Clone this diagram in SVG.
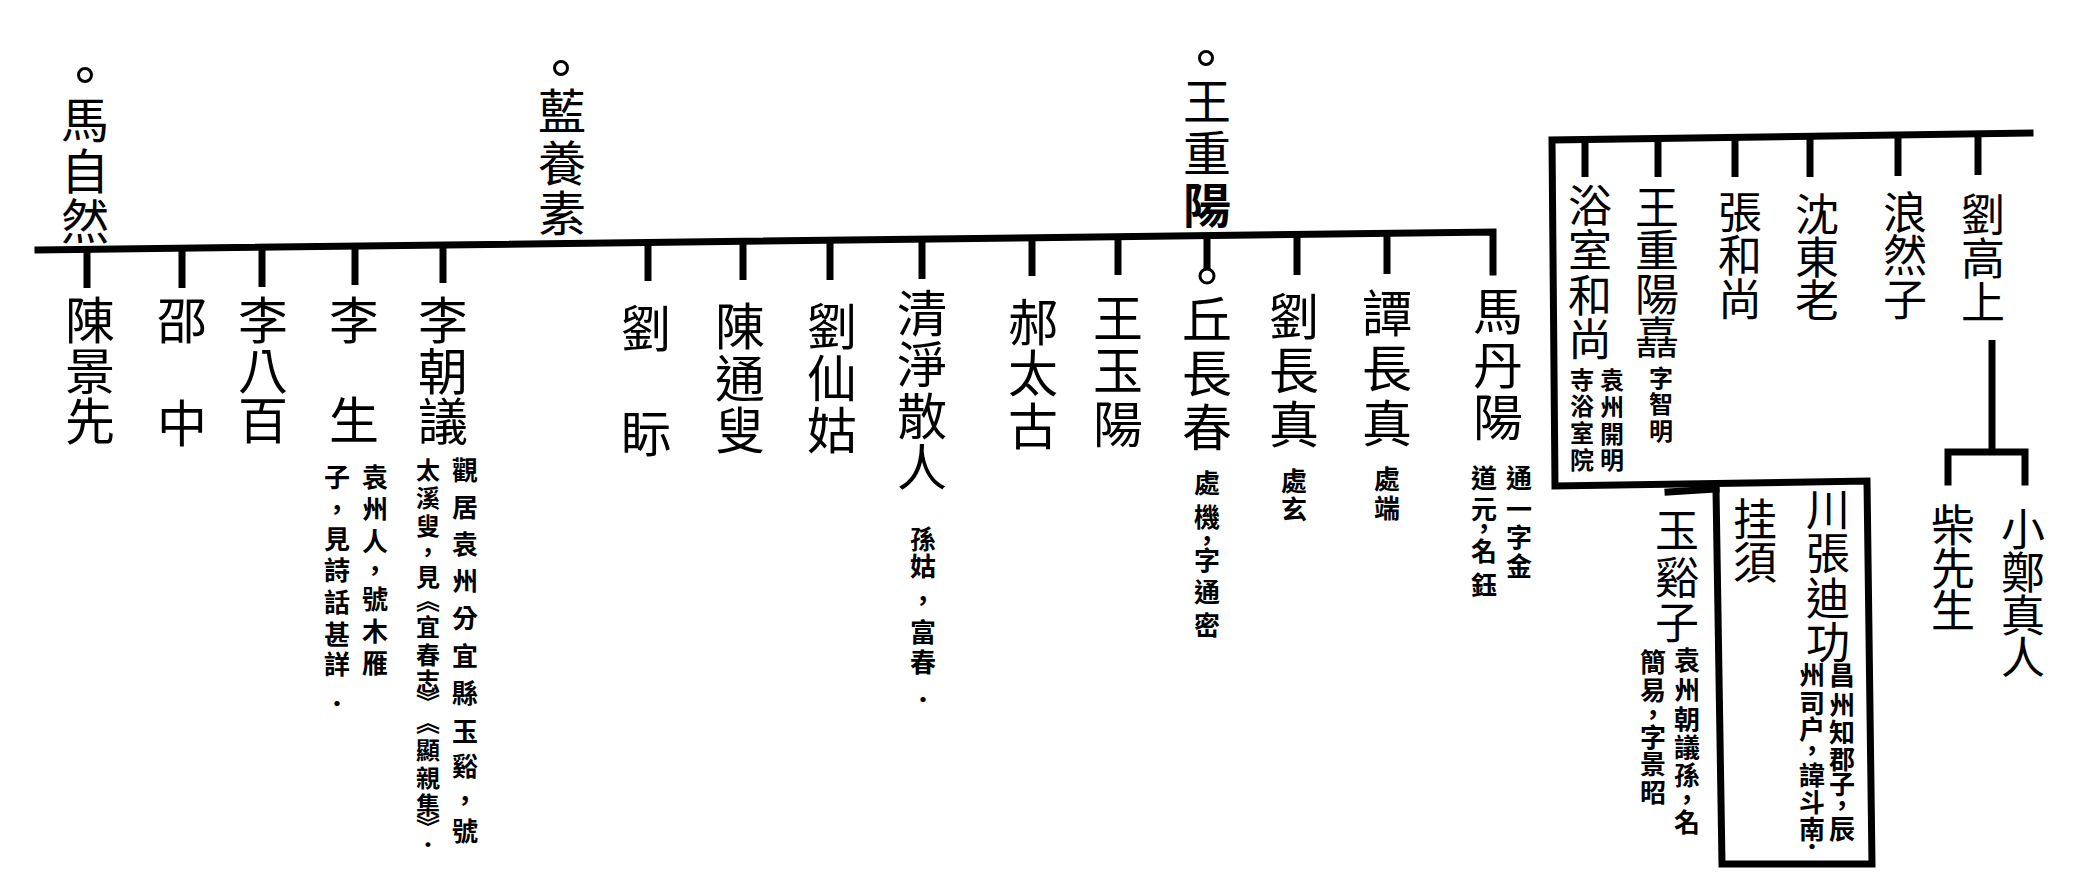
<svg xmlns="http://www.w3.org/2000/svg" width="2074" height="892" viewBox="0 0 2074 892">
<style>
text { font-family: "Noto Sans CJK TC", "Noto Sans CJK JP", sans-serif; text-anchor: middle; dominant-baseline: central; fill: #000; }
.n { font-size: 50px; }
.t { font-size: 48px; }
.r { font-size: 44px; }
.s { font-size: 26px; font-weight: 700; }
.xs { font-size: 24px; font-weight: 700; }
.b { font-weight: 700; }
.ln { stroke: #000; stroke-width: 7; fill: none; stroke-linecap: square; }
.tk { stroke: #000; stroke-width: 7; fill: none; }
.rg { stroke: #000; stroke-width: 3; fill: #fff; }
</style>
<rect width="2074" height="892" fill="#fff"/>
<g id="connectors">
  <polyline class="ln" points="38,250 1493,232 1493,272"/>
  <line class="tk" x1="87" y1="249" x2="87" y2="288"/>
  <line class="tk" x1="182" y1="248" x2="182" y2="288"/>
  <line class="tk" x1="262" y1="247" x2="262" y2="287"/>
  <line class="tk" x1="355" y1="246" x2="355" y2="285"/>
  <line class="tk" x1="443" y1="244" x2="443" y2="283"/>
  <line class="tk" x1="648" y1="242" x2="648" y2="281"/>
  <line class="tk" x1="743" y1="241" x2="743" y2="280"/>
  <line class="tk" x1="830" y1="240" x2="830" y2="280"/>
  <line class="tk" x1="922" y1="239" x2="922" y2="279"/>
  <line class="tk" x1="1032" y1="237" x2="1032" y2="276"/>
  <line class="tk" x1="1118" y1="236" x2="1118" y2="275"/>
  <line class="tk" x1="1207" y1="235" x2="1207" y2="270"/>
  <line class="tk" x1="1297" y1="234" x2="1297" y2="275"/>
  <line class="tk" x1="1387" y1="233" x2="1387" y2="274"/>
  <circle class="rg" cx="1207" cy="276" r="7"/>
  <polyline class="ln" points="2030,133 1552,140 1555,486 1867,481 1872,864 1722,864 1716,489"/>
  <line class="ln" x1="1668" y1="492" x2="1716" y2="489"/>
  <line class="tk" x1="1585" y1="139" x2="1585" y2="177"/>
  <line class="tk" x1="1658" y1="138" x2="1658" y2="177"/>
  <line class="tk" x1="1735" y1="137" x2="1735" y2="177"/>
  <line class="tk" x1="1810" y1="136" x2="1810" y2="177"/>
  <line class="tk" x1="1898" y1="135" x2="1898" y2="176"/>
  <line class="tk" x1="1978" y1="134" x2="1978" y2="175"/>
  <line class="tk" x1="1992" y1="340" x2="1992" y2="452"/>
  <polyline class="ln" points="1948,482 1948,452 2025,452 2025,482"/>
</g>
<g id="ma-ziran">
  <circle class="rg" cx="85" cy="75" r="6.5"/>
  <text class="t" x="85 85 85" y="117 168 218">馬自然</text>
</g>
<g id="lan-yangsu">
  <circle class="rg" cx="561" cy="68" r="6.5"/>
  <text class="t" x="562 562 562" y="108 160 210">藍養素</text>
</g>
<g id="wang-chongyang">
  <circle class="rg" cx="1206" cy="58" r="6.5"/>
  <text class="t" x="1207 1207 1207" y="98 150 202">王重<tspan class="b">陽</tspan></text>
</g>
<g id="chen-jingxian"><text class="n" x="90 90 90" y="317 368 418">陳景先</text></g>
<g id="shao-zhong"><text class="n" x="182 182" y="317 420">邵中</text></g>
<g id="li-babai"><text class="n" x="263 263 263" y="317 367 417">李八百</text></g>
<g id="li-sheng">
  <text class="n" x="354 354" y="317 417">李生</text>
  <text class="s" x="375 375 375 375 375 375 375" y="475 507 539 568 597 629 661">袁州人，號木雁</text>
  <text class="s" x="337 337 337 337 337 337 337 337" y="475 507 537 568 600 632 662 702">子，見詩話甚詳．</text>
</g>
<g id="li-chaoyi">
  <text class="n" x="443 443 443" y="317 368 418">李朝議</text>
  <text class="s" x="465 465 465 465 465 465 465 465 465 465 465" y="468 505 542 579 616 654 691 729 764 798 829">觀居袁州分宜縣玉谿，號</text>
  <text class="xs" x="428 428 428 428 428 428 428 428 428 428 428 428 428 428 428 428" y="468 496 524 550 575 598 625 653 679 700 720 748 776 803 825 843">太溪叟，見︽宜春志︾︽顯親集︾．</text>
</g>
<g id="liu-shi"><text class="n" x="646 646" y="325 430">劉眎</text></g>
<g id="chen-tongsou"><text class="n" x="740 740 740" y="323 375 427">陳通叟</text></g>
<g id="liu-xiangu"><text class="n" x="832 832 832" y="323 375 427">劉仙姑</text></g>
<g id="qingjing-sanren">
  <text class="n" x="922 922 922 922" y="310 361 413 464">清淨散人</text>
  <text class="s" x="923 923 923 923 923 923" y="537 564 598 630 660 698">孫姑，富春．</text>
</g>
<g id="hao-taigu"><text class="n" x="1033 1033 1033" y="319 370 423">郝太古</text></g>
<g id="wang-yuyang"><text class="n" x="1118 1118 1118" y="315 367 421">王玉陽</text></g>
<g id="qiu-changchun">
  <text class="n" x="1207 1207 1207" y="316 370 424">丘長春</text>
  <text class="s" x="1207 1207 1207 1207 1207 1207" y="481 515 538 558 590 623">處機，字通密</text>
</g>
<g id="liu-changzhen">
  <text class="n" x="1294 1294 1294" y="313 367 421">劉長真</text>
  <text class="s" x="1294 1294" y="479 507">處玄</text>
</g>
<g id="tan-changzhen">
  <text class="n" x="1387 1387 1387" y="310 365 420">譚長真</text>
  <text class="s" x="1387 1387" y="477 506">處端</text>
</g>
<g id="ma-danyang">
  <text class="n" x="1498 1498 1498" y="308 362 414">馬丹陽</text>
  <text class="s" x="1519 1519 1519 1519" y="476 507 535 564">通一字金</text>
  <text class="s" x="1484 1484 1484 1484 1484" y="476 507 526 549 583">道元，名鈺</text>
</g>
<g id="yushi-heshang">
  <text class="r" x="1590 1590 1590 1590" y="203 248 293 337">浴室和尚</text>
  <text class="xs" x="1612 1612 1612 1612" y="378 405 432 458">袁州開明</text>
  <text class="xs" x="1582 1582 1582 1582" y="378 404 431 458">寺浴室院</text>
</g>
<g id="wang-chongyang-zhe">
  <text class="r" x="1657 1657 1657 1657" y="205 248 292 335">王重陽嚞</text>
  <text class="xs" x="1661 1661 1661" y="376 402 429">字智明</text>
</g>
<g id="zhang-heshang"><text class="r" x="1740 1740 1740" y="210 253 297">張和尚</text></g>
<g id="shen-donglao"><text class="r" x="1817 1817 1817" y="212 255 298">沈東老</text></g>
<g id="langranzi"><text class="r" x="1905 1905 1905" y="210 253 297">浪然子</text></g>
<g id="liu-gaoshang"><text class="r" x="1983 1983 1983" y="212 256 300">劉高上</text></g>
<g id="yuxizi">
  <text class="r" x="1677 1677 1677" y="528 575 620">玉谿子</text>
  <text class="s" x="1687 1687 1687 1687 1687 1687 1687" y="658 688 717 745 773 797 820">袁州朝議孫，名</text>
  <text class="s" x="1653 1653 1653 1653 1653 1653" y="660 688 712 735 762 790">簡易，字景昭</text>
</g>
<g id="guaxu"><text class="r" x="1755 1755" y="517 560">挂須</text></g>
<g id="zhang-digong">
  <text class="r" x="1828 1828 1828 1828" y="507 551 596 640">川張迪功</text>
  <text class="s" x="1842 1842 1842 1842 1842 1842 1842" y="673 703 730 757 782 803 827">昌州知郡子，辰</text>
  <text class="s" x="1812 1812 1812 1812 1812 1812 1812 1812" y="673 701 727 748 773 800 827 845">州司户，諱斗南．</text>
</g>
<g id="chai-xiansheng"><text class="r" x="1953 1953 1953" y="523 566 608">柴先生</text></g>
<g id="xiao-zhengzhenren"><text class="r" x="2023 2023 2023 2023" y="527 570 613 655">小鄭真人</text></g>
</svg>
